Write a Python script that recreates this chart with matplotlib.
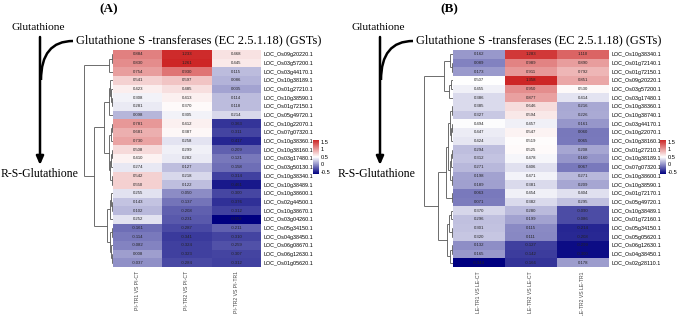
import numpy as np
import matplotlib
matplotlib.use("Agg")
import matplotlib.pyplot as plt
from matplotlib.colors import LinearSegmentedColormap, Normalize
from matplotlib.cm import ScalarMappable
from matplotlib.path import Path
from matplotlib.patches import PathPatch

# ---------------- data ----------------
genes_A = ["LOC_Os09g20220.1", "LOC_Os03g57200.1", "LOC_Os03g44170.1", "LOC_Os10g38189.1",
           "LOC_Os01g27210.1", "LOC_Os10g38590.1", "LOC_Os01g72150.1", "LOC_Os05g49720.1",
           "LOC_Os10g22070.1", "LOC_Os07g07320.1", "LOC_Os10g38360.1", "LOC_Os10g38160.1",
           "LOC_Os03g17480.1", "LOC_Os03g50130.1", "LOC_Os10g38340.1", "LOC_Os10g38489.1",
           "LOC_Os10g38600.1", "LOC_Os02g44500.1", "LOC_Os10g38670.1", "LOC_Os03g04260.1",
           "LOC_Os05g34150.1", "LOC_Os04g38450.1", "LOC_Os06g08670.1", "LOC_Os06g12630.1",
           "LOC_Os01g05620.1"]
cols_A = ["PI-TR1 VS PI-CT", "PI-TR2 VS PI-CT", "PI-TR2 VS PI-TR1"]
a_col1 = [0.884, 0.830, 0.754, 0.541, 0.423, 0.308, 0.281, 0.098, 0.781, 0.681, 0.730, 0.508,
          0.410, 0.274, 0.542, 0.550, 0.255, 0.143, 0.102, 0.252, -0.161, -0.114, -0.082, 0.008, -0.037]
a_col2 = [1.233, 1.261, 0.930, 0.597, 0.485, 0.413, 0.370, 0.305, 0.412, 0.387, 0.258, 0.299,
          0.282, 0.127, 0.218, 0.122, -0.050, -0.137, -0.208, -0.231, -0.287, -0.341, -0.324, -0.323, -0.284]
a_col3 = [0.468, 0.445, 0.115, 0.086, 0.035, 0.114, 0.118, 0.214, -0.363, -0.311, -0.417, -0.209,
          -0.121, -0.158, -0.314, -0.461, -0.300, -0.376, -0.312, -0.552, -0.211, -0.310, -0.259, -0.307, -0.312]
# dendrogram merges (child a, child b, height) ; indices >= 25 refer to earlier merges
link_A = [(0, 1, 0.05), (25, 2, 0.15), (5, 6, 0.04), (4, 27, 0.07), (3, 28, 0.10), (29, 7, 0.14),
          (8, 9, 0.04), (31, 10, 0.06), (11, 12, 0.04), (33, 13, 0.07), (14, 15, 0.04), (34, 35, 0.10),
          (32, 36, 0.13), (30, 37, 0.30), (17, 18, 0.04), (16, 39, 0.07), (40, 19, 0.10), (20, 21, 0.04),
          (23, 24, 0.03), (22, 43, 0.06), (42, 44, 0.09), (41, 45, 0.20), (38, 46, 0.64), (26, 47, 1.0)]

genes_B = ["LOC_Os10g38340.1", "LOC_Os01g72140.1", "LOC_Os01g72150.1", "LOC_Os09g20220.1",
           "LOC_Os03g57200.1", "LOC_Os03g17480.1", "LOC_Os10g38360.1", "LOC_Os10g38740.1",
           "LOC_Os03g44170.1", "LOC_Os10g22070.1", "LOC_Os10g38160.1", "LOC_Os01g27210.1",
           "LOC_Os10g38189.1", "LOC_Os07g07320.1", "LOC_Os10g38600.1", "LOC_Os10g38590.1",
           "LOC_Os01g72170.1", "LOC_Os05g49720.1", "LOC_Os10g38489.1", "LOC_Os01g72160.1",
           "LOC_Os05g34150.1", "LOC_Os05g05620.1", "LOC_Os06g12630.1", "LOC_Os04g38450.1",
           "LOC_Os02g28110.1"]
cols_B = ["LE-TR1 VS LE-CT", "LE-TR2 VS LE-CT", "LE-TR2 VS LE-TR1"]
b_col1 = [0.162, 0.089, 0.173, 0.507, 0.455, 0.386, 0.385, 0.327, 0.494, 0.447, 0.424, 0.294,
          0.312, 0.271, 0.198, 0.189, 0.063, 0.071, 0.370, 0.296, 0.301, 0.320, 0.132, 0.165, -0.344]
b_col2 = [1.283, 0.989, 0.911, 1.358, 0.950, 0.877, 0.646, 0.594, 0.457, 0.547, 0.519, 0.525,
          0.478, 0.406, 0.471, 0.381, 0.454, 0.382, 0.280, 0.199, 0.115, 0.111, -0.127, -0.142, -0.166]
b_col3 = [1.110, 0.890, 0.792, 0.851, 0.530, 0.414, 0.216, 0.226, 0.161, 0.060, 0.065, 0.208,
          0.160, 0.067, 0.271, 0.209, 0.404, 0.295, -0.090, -0.086, -0.214, -0.208, -0.299, -0.300, 0.178]
link_B = [(1, 2, 0.05), (0, 25, 0.10), (3, 4, 0.08), (27, 5, 0.12), (6, 7, 0.04), (8, 9, 0.05),
          (30, 10, 0.07), (29, 31, 0.10), (11, 12, 0.04), (33, 13, 0.06), (14, 15, 0.05), (34, 35, 0.10),
          (32, 36, 0.18), (16, 17, 0.05), (37, 38, 0.25), (26, 28, 0.30), (18, 19, 0.06), (20, 21, 0.05),
          (41, 42, 0.12), (22, 23, 0.05), (44, 24, 0.10), (43, 45, 0.20), (39, 46, 0.52), (40, 47, 1.0)]

cbar_ticks = [-0.5, 0, 0.5, 1, 1.5]

# ---------------- style ----------------
W, H = 680, 316
fig = plt.figure(figsize=(W / 100, H / 100), dpi=100)
fig.patch.set_facecolor("white")
cmap = LinearSegmentedColormap.from_list("nwr", ["#000080", "#FFFFFF", "#CD2626"])
sans = ["Liberation Sans", "DejaVu Sans"]
serif = ["Liberation Serif", "DejaVu Serif"]


def px_axes(x0, y0, x1, y1, **kw):
    return fig.add_axes([x0 / W, 1 - y1 / H, (x1 - x0) / W, (y1 - y0) / H], **kw)


def draw_dendro(ax, links, n):
    pos = {i: float(i) for i in range(n)}
    hgt = {i: 0.0 for i in range(n)}
    for k, (a, b, h) in enumerate(links):
        for c in (a, b):
            ax.plot([hgt[c], h], [pos[c], pos[c]], color="#555555", lw=0.6, solid_capstyle="butt")
        ax.plot([h, h], [pos[a], pos[b]], color="#555555", lw=0.6, solid_capstyle="butt")
        pos[n + k] = (pos[a] + pos[b]) / 2
        hgt[n + k] = h
    ax.set_xlim(1.02, 0)
    ax.set_ylim(n - 0.5, -0.5)
    ax.axis("off")


def panel(ox, hx0, hx1, genes, cols, data, links, cbx, title):
    n = len(genes)
    # heatmap
    ax = px_axes(hx0, 50, hx1, 267)
    norm = Normalize(vmin=data.min(), vmax=data.max())
    ax.imshow(data, cmap=cmap, norm=norm, aspect="auto", interpolation="nearest")
    for i in range(n):
        for j in range(data.shape[1]):
            ax.text(j, i, f"{data[i, j]:.3f}", ha="center", va="center",
                    fontsize=3.1, color="#222222", family=sans)
    ax.yaxis.tick_right()
    ax.set_yticks(range(n))
    ax.set_yticklabels(genes, fontsize=3.9, family=sans)
    ax.set_xticks(range(len(cols)))
    ax.set_xticklabels(cols, rotation=90, fontsize=3.7, family=sans, color="#444444",
                       ha="center", va="top")
    ax.tick_params(length=0, pad=1.5, axis="y")
    ax.tick_params(length=0, pad=3, axis="x")
    for s in ax.spines.values():
        s.set_visible(False)
    # dendrogram
    dax = px_axes(hx0 - 30, 50, hx0, 267)
    draw_dendro(dax, links, n)
    # colorbar
    cax = px_axes(cbx, 140, cbx + 6, 174)
    sm = ScalarMappable(norm=Normalize(-0.65, 1.6), cmap=cmap)
    cb = fig.colorbar(sm, cax=cax, ticks=cbar_ticks)
    cb.ax.set_yticklabels([f"{t:g}" for t in cbar_ticks], fontsize=4.1, family=sans)
    cb.ax.tick_params(length=0, pad=1.5)
    cb.outline.set_visible(False)

    # annotations on overlay
    ov = px_axes(0, 0, W, H)
    ov.set_xlim(0, W)
    ov.set_ylim(H, 0)
    ov.axis("off")
    ov.patch.set_alpha(0)
    ov.text(ox + 109, 9, title, ha="center", va="center", fontsize=9.5,
            fontweight="bold", family=serif)
    ov.text(ox + 12, 28, "Glutathione", ha="left", va="center", fontsize=8.2, family=serif)
    ov.text(ox + 76, 40, "Glutathione S -transferases (EC 2.5.1.18) (GSTs)", ha="left",
            va="center", fontsize=9, family=serif)
    ov.text(ox + 0.5 - (3 if ox else 0), 174, "R-S-Glutathione", ha="left", va="center",
            fontsize=8.5, family=serif)
    ov.annotate("", xy=(ox + 40, 165), xytext=(ox + 40, 37),
                arrowprops=dict(arrowstyle="-|>,head_length=0.5,head_width=0.22",
                                color="black", lw=1.8, shrinkA=0, shrinkB=0))
    verts = [(ox + 41, 80), (ox + 41, 41), (ox + 73, 41)]
    path = Path(verts, [Path.MOVETO, Path.CURVE3, Path.CURVE3])
    ov.add_patch(PathPatch(path, fc="none", ec="black", lw=1.8))


data_A = np.column_stack([a_col1, a_col2, a_col3])
data_B = np.column_stack([b_col1, b_col2, b_col3])
panel(0, 113, 261, genes_A, cols_A, data_A, link_A, 313, "(A)")
panel(340, 453, 609, genes_B, cols_B, data_B, link_B, 660, "(B)")

fig.savefig("out.png", dpi=100)
